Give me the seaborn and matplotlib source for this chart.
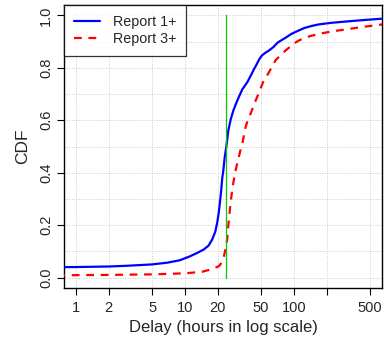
import matplotlib
matplotlib.use("Agg")
import matplotlib.pyplot as plt
import seaborn as sns
import numpy as np
import pandas as pd
from matplotlib.ticker import FixedLocator, NullFormatter, FixedFormatter

# Data
blue_x = [0.5, 1, 2, 3, 5, 7, 9, 11, 13, 14.9, 16.5, 17.8, 19, 19.8, 20.4, 21.0, 21.5, 22.0,
          22.4, 23.2, 24.0, 25.0, 26.3, 27.7, 29.2, 31.3, 33.6, 37.3, 40, 43, 45, 48.4, 51,
          54.8, 58.9, 65, 70.2, 75, 83.7, 95, 107, 124, 145, 169, 220, 300, 420, 650]
blue_y = [0.039, 0.040, 0.042, 0.045, 0.050, 0.057, 0.066, 0.080, 0.094, 0.107, 0.122, 0.145,
          0.175, 0.21, 0.245, 0.29, 0.33, 0.38, 0.40, 0.46, 0.50, 0.56, 0.603, 0.635, 0.66,
          0.69, 0.718, 0.745, 0.769, 0.795, 0.81, 0.835, 0.848, 0.858, 0.866, 0.88, 0.895,
          0.903, 0.915, 0.93, 0.94, 0.952, 0.96, 0.966, 0.972, 0.977, 0.982, 0.988]
red_x = [0.5, 1, 2, 5, 10, 14.4, 17, 20.5, 22, 22.8, 23.6, 24.4, 25.3, 26.3, 27.5, 29.2, 30.8,
         32.5, 33.6, 35.8, 38, 40, 44, 47.7, 52, 56.6, 63, 68, 75, 83, 93, 106, 118, 140, 169,
         230, 300, 420, 650]
red_y = [0.008, 0.009, 0.010, 0.012, 0.016, 0.022, 0.030, 0.043, 0.060, 0.081, 0.11, 0.145,
         0.22, 0.29, 0.35, 0.41, 0.45, 0.49, 0.51, 0.57, 0.605, 0.625, 0.67, 0.705, 0.745,
         0.77, 0.805, 0.83, 0.847, 0.865, 0.882, 0.90, 0.91, 0.921, 0.93, 0.94, 0.947, 0.956,
         0.966]
vline_x = 23.8
series_labels = ["Report 1+", "Report 3+"]
x_ticks = [1, 2, 5, 10, 20, 50, 100, 200, 500]
x_tick_labels = ["1", "2", "5", "10", "20", "50", "100", "", "500"]
y_ticks = [0.0, 0.2, 0.4, 0.6, 0.8, 1.0]
y_tick_labels = ["0.0", "0.2", "0.4", "0.6", "0.8", "1.0"]

sns.set_style("white")
plt.rcParams["font.family"] = ["Liberation Sans", "DejaVu Sans"]

fig = plt.figure(figsize=(3.84, 3.39), dpi=100)
ax = fig.add_axes([64/384, 1-288/339, (382-64)/384, (288-5)/339])

df_b = pd.DataFrame({"x": blue_x, "y": blue_y})
df_r = pd.DataFrame({"x": red_x, "y": red_y})

ax.set_xscale("log")
ax.set_xlim(0.78, 641)
ax.set_ylim(-0.04, 1.04)

# grid
for xv in x_ticks:
    ax.axvline(xv, color="#cccccc", lw=0.7, ls=(0, (1, 1.5)), zorder=0)
for yv in np.arange(0, 1.01, 0.1):
    ax.axhline(yv, color="#cccccc", lw=0.7, ls=(0, (1, 1.5)), zorder=0)

sns.lineplot(data=df_b, x="x", y="y", ax=ax, color="#0000ff", lw=1.6, label=series_labels[0],
             sort=True, zorder=3)
sns.lineplot(data=df_r, x="x", y="y", ax=ax, color="#ff0000", lw=1.6, label=series_labels[1],
             sort=True, zorder=3, dashes=False)
ax.lines[-1].set_dashes((3.5, 3))

ax.plot([vline_x, vline_x], [0, 1], color="#00cc00", lw=0.9, zorder=4)

ax.xaxis.set_major_locator(FixedLocator(x_ticks))
ax.xaxis.set_major_formatter(FixedFormatter(x_tick_labels))
ax.xaxis.set_minor_locator(FixedLocator([]))
ax.xaxis.set_minor_formatter(NullFormatter())
ax.set_yticks(y_ticks)
ax.set_yticklabels(y_tick_labels, rotation=90, va="center")

ax.tick_params(axis="both", direction="out", length=5, width=0.8, color="black",
               labelsize=10.5, pad=3, bottom=True, left=True)
ax.tick_params(axis="x", pad=4)
for s in ax.spines.values():
    s.set_visible(True)
    s.set_color("black")
    s.set_linewidth(1.0)

ax.set_xlabel("Delay (hours in log scale)", fontsize=12, labelpad=4)
ax.set_ylabel("CDF", fontsize=12.5, labelpad=6)

leg = ax.legend(loc="upper left", frameon=True, fancybox=False, fontsize=10.3,
                borderaxespad=0, handlelength=1.85, handletextpad=0.85, borderpad=0.7,
                labelspacing=0.2)
leg.get_frame().set_edgecolor("black")
leg.get_frame().set_linewidth(0.9)
leg.get_lines()[1].set_dashes((3.5, 3))

fig.savefig("out.png", dpi=100)
